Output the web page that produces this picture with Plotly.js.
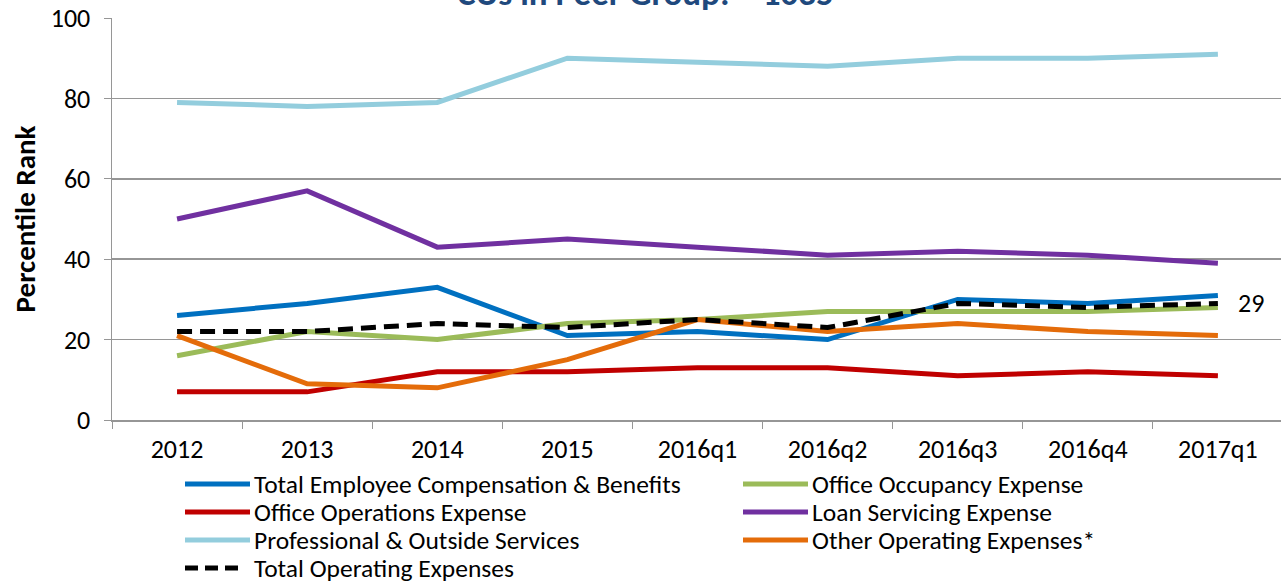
<!DOCTYPE html>
<html>
<head>
<meta charset="utf-8">
<script src="https://cdn.plot.ly/plotly-3.0.1.min.js"></script>
<style>html,body{margin:0;padding:0;background:#fff;}#chart{width:1281px;height:581px;}</style>
</head>
<body>
<div id="chart"></div>
<script>
const categories = ["2012","2013","2014","2015","2016q1","2016q2","2016q3","2016q4","2017q1"];
const totalEmployeeComp = [26,29,33,21,22,20,30,29,31];
const officeOccupancy = [16,22,20,24,25,27,27,27,28];
const officeOperations = [7,7,12,12,13,13,11,12,11];
const loanServicing = [50,57,43,45,43,41,42,41,39];
const professionalOutside = [79,78,79,90,89,88,90,90,91];
const otherOperating = [21,9,8,15,25,22,24,22,21];
const totalOperating = [22,22,24,23,25,23,29,28,29];
const seriesNames = ["Total Employee Compensation & Benefits","Office Occupancy Expense","Office Operations Expense","Loan Servicing Expense","Professional & Outside Services","Other Operating Expenses*","Total Operating Expenses"];
const seriesColors = ["#0070C0","#9BBB59","#C00000","#7030A0","#93CDDD","#E46C0A","#000000"];
const titleText = "CUs in Peer Group: ~ 1035";

const FONT = "Carlito, 'Liberation Sans Narrow', 'DejaVu Sans Condensed', sans-serif";
const allSeries = [totalEmployeeComp, officeOccupancy, officeOperations, loanServicing, professionalOutside, otherOperating, totalOperating];
const DASH = "15px,8px";
const data = allSeries.map((y, i) => ({
  x: categories, y: y, name: seriesNames[i], type: "scatter", mode: "lines",
  line: {color: seriesColors[i], width: 5, dash: i === 6 ? DASH : "solid"}, hoverinfo: "skip"
}));

// plot area geometry (pixels) used to place the hand-drawn legend
const PL = 112, PW = 1169, PT = 18, PH = 402;
const px = v => (v - PL) / PW;
const py = v => (PT + PH - v) / PH;
const shapes = [], annotations = [];
seriesNames.forEach((name, i) => {
  const col = i % 2, row = Math.floor(i / 2);
  const x0 = col === 0 ? 185 : 743;
  const yc = 484 + row * 28;
  shapes.push({type: "line", xref: "paper", yref: "paper", x0: px(x0), x1: px(x0 + (i === 6 ? 60 : 65)),
    y0: py(yc), y1: py(yc), line: {color: seriesColors[i], width: 5, dash: i === 6 ? "13px,7px" : "solid"}});
  annotations.push({xref: "paper", yref: "paper", x: px(x0 + 68), y: py(yc), xanchor: "left", yanchor: "middle",
    text: name, showarrow: false, borderpad: 0, font: {family: FONT, size: 25.5, color: "#000"}});
});
const last = totalOperating[totalOperating.length-1];
annotations.push({x: categories[categories.length-1], y: last, xref: "x", yref: "y", text: String(last),
  showarrow: false, xanchor: "left", xshift: 18, font: {family: FONT, size: 26}});
annotations.push({x: 0.5, y: 1.0, xref: "paper", yref: "paper", text: "<b>" + titleText + "</b>",
  showarrow: false, xanchor: "center", yanchor: "bottom", xshift: -51, yshift: 2,
  font: {family: FONT, size: 35, color: "#1F497D"}});

const layout = {
  width: 1281, height: 581,
  margin: {l: PL, r: 0, t: PT, b: 161},
  paper_bgcolor: "#fff", plot_bgcolor: "#fff",
  font: {family: FONT, size: 24, color: "#000"},
  showlegend: false,
  xaxis: {type: "category", range: [-0.5, 8.485], showgrid: false,
    showline: true, linecolor: "#969696", linewidth: 1.5,
    ticks: "outside", tickson: "boundaries", ticklen: 7, tickcolor: "#969696",
    ticklabelstandoff: 5, tickfont: {family: FONT, size: 26}, fixedrange: true},
  yaxis: {range: [0, 100], tickvals: [0,20,40,60,80,100], showgrid: true,
    gridcolor: "#969696", gridwidth: 1.5, showline: true, linecolor: "#969696", linewidth: 1.5,
    ticks: "outside", ticklen: 7, tickcolor: "#969696", zeroline: false,
    ticklabelstandoff: 8, tickfont: {family: FONT, size: 26},
    title: {text: "<b>Percentile Rank</b>", font: {family: FONT, size: 29}, standoff: 6}},
  shapes: shapes,
  annotations: annotations
};
Plotly.newPlot("chart", data, layout, {staticPlot: true, displayModeBar: false});
</script>
</body>
</html>
